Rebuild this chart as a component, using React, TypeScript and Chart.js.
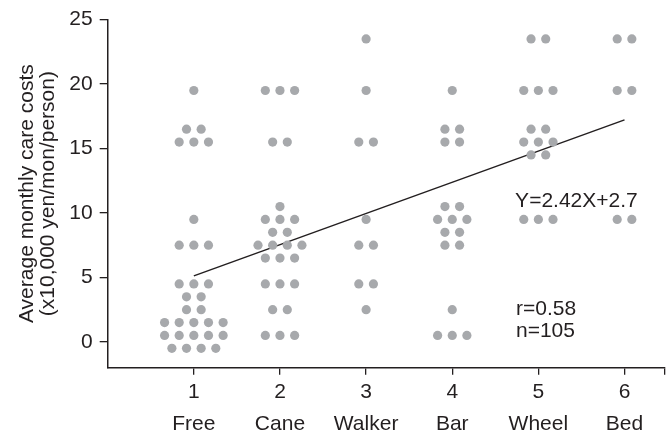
import React, { useEffect, useRef } from 'react';
import { Chart, registerables } from 'chart.js';

Chart.register(...registerables);

// ---- data ----
const categories = ['Free', 'Cane', 'Walker', 'Bar', 'Wheel', 'Bed'];
const yTickValues = [0, 5, 10, 15, 20, 25];

// rows of dots per category: value (x10,000 yen) and number of dots on that row
const freeValues = [19.5, 16.5, 15.5, 9.5, 7.5, 4.5, 3.5, 2.5, 1.5, 0.5, -0.5];
const freeCounts = [1, 2, 3, 1, 3, 3, 2, 2, 5, 5, 4];
const caneValues = [19.5, 15.5, 10.5, 9.5, 8.5, 7.5, 6.5, 4.5, 2.5, 0.5];
const caneCounts = [3, 2, 1, 3, 2, 4, 3, 3, 2, 3];
const walkerValues = [23.5, 19.5, 15.5, 9.5, 7.5, 4.5, 2.5];
const walkerCounts = [1, 1, 2, 1, 2, 2, 1];
const barValues = [19.5, 16.5, 15.5, 10.5, 9.5, 8.5, 7.5, 2.5, 0.5];
const barCounts = [1, 2, 2, 2, 3, 2, 2, 1, 3];
const wheelValues = [23.5, 19.5, 16.5, 15.5, 14.5, 9.5];
const wheelCounts = [2, 3, 2, 3, 2, 3];
const bedValues = [23.5, 19.5, 9.5];
const bedCounts = [2, 2, 2];

// regression
const slope = 2.42;
const intercept = 2.7;
const fitRange = [1, 6];
const equationLabel = 'Y=2.42X+2.7';
const statsLabels = ['r=0.58', 'n=105'];

// ---- style ----
const FONT = 'Liberation Sans, Arial, Helvetica, sans-serif';
const FONT_SIZE = 21;
const TEXT = '#231f20';
const DOT = '#a7a9ac';
const DOT_STEP = 0.17;
const X_MAX = 6.47;

const groups: [number[], number[]][] = [
  [freeValues, freeCounts],
  [caneValues, caneCounts],
  [walkerValues, walkerCounts],
  [barValues, barCounts],
  [wheelValues, wheelCounts],
  [bedValues, bedCounts],
];

function buildPoints() {
  const pts: { x: number; y: number }[] = [];
  groups.forEach(([vals, counts], ci) => {
    vals.forEach((v, ri) => {
      const n = counts[ri];
      for (let i = 0; i < n; i++) {
        pts.push({ x: ci + 1 + (i - (n - 1) / 2) * DOT_STEP, y: v });
      }
    });
  });
  return pts;
}

const annotationPlugin = {
  id: 'annot',
  afterDatasetsDraw(chart: any) {
    const { ctx, scales } = chart;
    const xs = scales.x;
    const ys = scales.y;
    ctx.save();
    ctx.font = `${FONT_SIZE}px ${FONT}`;
    ctx.fillStyle = TEXT;
    ctx.textAlign = 'left';
    ctx.textBaseline = 'middle';
    ctx.fillText(equationLabel, xs.getPixelForValue(4.73), ys.getPixelForValue(10.95));
    ctx.fillText(statsLabels[0], xs.getPixelForValue(4.74), ys.getPixelForValue(2.5));
    ctx.fillText(statsLabels[1], xs.getPixelForValue(4.74), ys.getPixelForValue(0.85));
    ctx.restore();
  },
};

export default function App() {
  const ref = useRef<HTMLCanvasElement | null>(null);

  useEffect(() => {
    if (!ref.current) return;
    const tickFont = { family: FONT, size: FONT_SIZE, lineHeight: 1.52 };
    const chart = new Chart(ref.current, {
      type: 'scatter',
      data: {
        datasets: [
          {
            data: buildPoints(),
            pointRadius: 4.6,
            pointHoverRadius: 4.6,
            pointBackgroundColor: DOT,
            pointBorderWidth: 0,
            borderColor: DOT,
          },
          {
            data: fitRange.map((x) => ({ x, y: slope * x + intercept })),
            showLine: true,
            borderColor: TEXT,
            borderWidth: 1.5,
            pointRadius: 0,
            pointHoverRadius: 0,
            fill: false,
          },
        ],
      },
      options: {
        animation: false,
        responsive: false,
        events: [],
        layout: { padding: { top: 15.5, right: 6, bottom: 0, left: 0 } },
        plugins: { legend: { display: false }, tooltip: { enabled: false } },
        scales: {
          x: {
            type: 'linear',
            min: 0,
            max: X_MAX,
            afterBuildTicks: (s: any) => {
              s.ticks = [1, 2, 3, 4, 5, 6, X_MAX].map((v) => ({ value: v }));
            },
            afterFit: (s: any) => {
              s.height = 70.3;
            },
            ticks: {
              autoSkip: false,
              maxRotation: 0,
              padding: 1.3,
              color: TEXT,
              font: tickFont,
              callback: (v: any) => {
                const n = Number(v);
                if (n === X_MAX) return '';
                return [String(n), categories[n - 1]];
              },
            },
            grid: {
              drawOnChartArea: false,
              drawTicks: true,
              tickLength: 7,
              color: TEXT,
              lineWidth: 1.3,
            },
            border: { display: true, color: TEXT, width: 1.5 },
          },
          y: {
            type: 'linear',
            min: -2,
            max: 25,
            afterBuildTicks: (s: any) => {
              s.ticks = yTickValues.map((v) => ({ value: v }));
            },
            afterFit: (s: any) => {
              s.width = 107.7;
            },
            ticks: {
              padding: 7,
              color: TEXT,
              font: { family: FONT, size: FONT_SIZE },
            },
            grid: {
              drawOnChartArea: false,
              drawTicks: true,
              tickLength: 8,
              color: TEXT,
              lineWidth: 1.3,
            },
            border: { display: true, color: TEXT, width: 1.5 },
            title: {
              display: true,
              text: ['Average monthly care costs', '(x10,000 yen/mon/person)'],
              color: TEXT,
              font: { family: FONT, size: FONT_SIZE, lineHeight: 1 },
              padding: { top: 16.5, bottom: 0 },
            },
          },
        },
      },
      plugins: [annotationPlugin],
    } as any);
    return () => chart.destroy();
  }, []);

  return (
    <div style={{ position: 'fixed', left: 0, top: 0, width: 671, height: 438, background: '#fff' }}>
      <canvas ref={ref} width={671} height={438} style={{ display: 'block' }} />
    </div>
  );
}
